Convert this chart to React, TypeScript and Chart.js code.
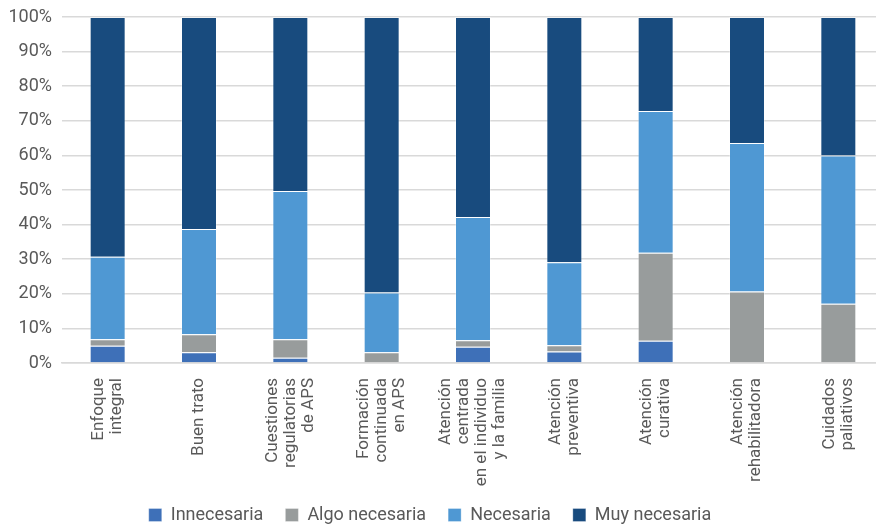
import React, { useEffect, useRef } from "react";
import { Chart, registerables } from "chart.js";

Chart.register(...registerables);

const categories: string[][] = [
  ["Enfoque", "integral"],
  ["Buen trato"],
  ["Cuestiones", "regulatorias", "de APS"],
  ["Formación", "continuada", "en APS"],
  ["Atención", "centrada", "en el individuo", "y la familia"],
  ["Atención", "preventiva"],
  ["Atención", "curativa"],
  ["Atención", "rehabilitadora"],
  ["Cuidados", "paliativos"],
];

const innecesaria = [5.0, 3.1, 1.5, 0, 4.7, 3.3, 6.4, 0, 0];
const algoNecesaria = [1.9, 5.2, 5.4, 3.1, 1.9, 1.8, 25.5, 20.7, 17.1];
const necesaria = [23.8, 30.4, 42.8, 17.3, 35.6, 24.0, 40.9, 42.9, 42.9];
const muyNecesaria = [69.3, 61.3, 50.3, 79.6, 57.8, 70.9, 27.2, 36.4, 40.0];

const seriesNames = ["Innecesaria", "Algo necesaria", "Necesaria", "Muy necesaria"];
const seriesColors = ["#3E70B8", "#989C9C", "#4F98D3", "#184B7E"];

const yTicks = [0, 10, 20, 30, 40, 50, 60, 70, 80, 90, 100];

const FONT = "Roboto, 'Noto Sans', sans-serif";
const TEXT = "#595959";
const LABEL_LINE = 18;

// Category labels, rotated and centred as a block under each bar.
const categoryLabels = {
  id: "categoryLabels",
  afterDraw(chart: any) {
    const { ctx, chartArea } = chart;
    const x = chart.scales.x;
    ctx.save();
    ctx.font = `17px ${FONT}`;
    ctx.fillStyle = TEXT;
    ctx.textAlign = "right";
    ctx.textBaseline = "middle";
    categories.forEach((lines, i) => {
      const cx = x.getPixelForValue(i);
      lines.forEach((line, j) => {
        const lx = cx + (j - (lines.length - 1) / 2) * LABEL_LINE;
        ctx.save();
        ctx.translate(lx, chartArea.bottom + 15);
        ctx.rotate(-Math.PI / 2);
        ctx.fillText(line, 0, 0);
        ctx.restore();
      });
    });
    ctx.restore();
  },
};

// Nudges the legend row into place below the labels.
const legendOffset = {
  id: "legendOffset",
  afterLayout(chart: any) {
    const l = chart.legend;
    if (!l) return;
    l.left -= 12;
    l.right -= 12;
    l.top += 5;
    l.bottom += 5;
  },
};

export default function App() {
  const canvasRef = useRef<HTMLCanvasElement | null>(null);

  useEffect(() => {
    if (!canvasRef.current) return;
    const values = [innecesaria, algoNecesaria, necesaria, muyNecesaria];
    const chart = new Chart(canvasRef.current, {
      type: "bar",
      data: {
        labels: categories.map((l) => l.join(" ")),
        datasets: values.map((v, i) => ({
          label: seriesNames[i],
          data: v,
          backgroundColor: seriesColors[i],
          borderColor: "rgba(255,255,255,0.3)",
          borderWidth: 1,
          categoryPercentage: 1,
          barPercentage: 0.394,
        })),
      },
      plugins: [categoryLabels, legendOffset],
      options: {
        animation: false,
        responsive: true,
        maintainAspectRatio: false,
        layout: { padding: { left: 0, right: 8, top: 17, bottom: 0 } },
        plugins: {
          tooltip: { enabled: false },
          legend: {
            position: "bottom",
            labels: {
              boxWidth: 13,
              boxHeight: 13,
              padding: 22,
              color: TEXT,
              font: { family: FONT, size: 18 },
            },
          },
        },
        scales: {
          x: {
            stacked: true,
            grid: { display: false, drawTicks: false },
            border: { display: true, color: "#D9D9D9", width: 1.5 },
            ticks: { display: false },
            afterFit: (scale: any) => {
              scale.height = 116;
            },
          },
          y: {
            stacked: true,
            min: 0,
            max: 100,
            afterBuildTicks: (scale: any) => {
              scale.ticks = yTicks.map((v) => ({ value: v }));
            },
            grid: { color: "#D9D9D9", lineWidth: 1.5, drawTicks: false },
            border: { display: false },
            ticks: {
              padding: 10,
              color: TEXT,
              font: { family: FONT, size: 18 },
              callback: (v: any) => `${v}%`,
            },
            afterFit: (scale: any) => {
              scale.width = 62;
              scale.paddingTop = 0;
              scale.paddingBottom = 0;
            },
          },
        },
      },
    });
    return () => chart.destroy();
  }, []);

  return (
    <div style={{ position: "fixed", left: 0, top: 0, width: 876, height: 529, overflow: "hidden", background: "#fff" }}>
      <div style={{ position: "relative", width: 892, height: 529 }}>
        <canvas ref={canvasRef} />
      </div>
    </div>
  );
}
